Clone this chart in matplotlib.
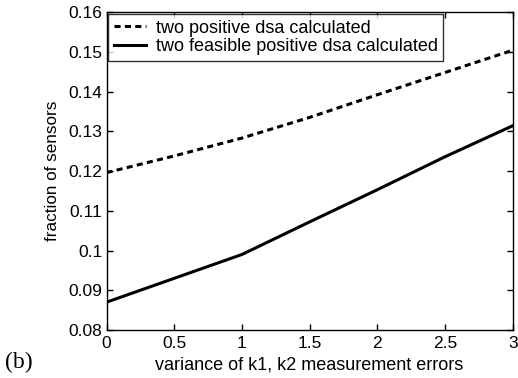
import matplotlib
matplotlib.use('Agg')
import numpy as np
from matplotlib import pyplot as plt

# variance of k1, k2 measurement errors
variance = [0, 0.5, 1, 1.5, 2, 2.5, 3]
two_positive = [0.1196, 0.1238, 0.1283, 0.1335, 0.1392, 0.1448, 0.1504]
two_feasible = [0.0870, 0.0930, 0.0990, 0.1072, 0.1153, 0.1236, 0.1314]

xticks = [0, 0.5, 1, 1.5, 2, 2.5, 3]
xticklabels = ['0', '0.5', '1', '1.5', '2', '2.5', '3']
yticks = [0.08, 0.09, 0.10, 0.11, 0.12, 0.13, 0.14, 0.15, 0.16]
yticklabels = ['0.08', '0.09', '0.1', '0.11', '0.12', '0.13', '0.14', '0.15', '0.16']

plt.rcParams['font.family'] = ['Liberation Sans', 'DejaVu Sans']

fig = plt.figure(figsize=(5.18, 3.78), dpi=100)
ax = fig.add_axes([0.2056, 0.127, 0.7842, 0.841])

ax.plot(variance, two_positive, color='black', lw=2.2, linestyle=(0, (2, 1.4)),
        label='two positive dsa calculated')
ax.plot(variance, two_feasible, color='black', lw=2.2, linestyle='-',
        label='two feasible positive dsa calculated')

ax.set_xlim(0, 3)
ax.set_ylim(0.08, 0.16)
ax.set_xticks(xticks)
ax.set_xticklabels(xticklabels)
ax.set_yticks(yticks)
ax.set_yticklabels(yticklabels)
ax.tick_params(direction='in', top=True, right=True, length=4, width=1,
               labelsize=12.5, pad=3)
ax.tick_params(axis='x', pad=4)
for s in ax.spines.values():
    s.set_linewidth(1.0)

ax.set_xlabel('variance of k1, k2 measurement errors', fontsize=13, labelpad=4)
ax.set_ylabel('fraction of sensors', fontsize=12.3, labelpad=6)

leg = ax.legend(loc='upper left', fontsize=13, frameon=True, fancybox=False,
                edgecolor='black', borderaxespad=0.1, handlelength=1.75,
                handletextpad=0.55, borderpad=0.32, labelspacing=0.1)
leg.get_frame().set_linewidth(1.0)

fig.text(0.01, 0.012, '(b)', family='Liberation Serif', fontsize=17, va='bottom')

fig.savefig('out.png', dpi=100)
